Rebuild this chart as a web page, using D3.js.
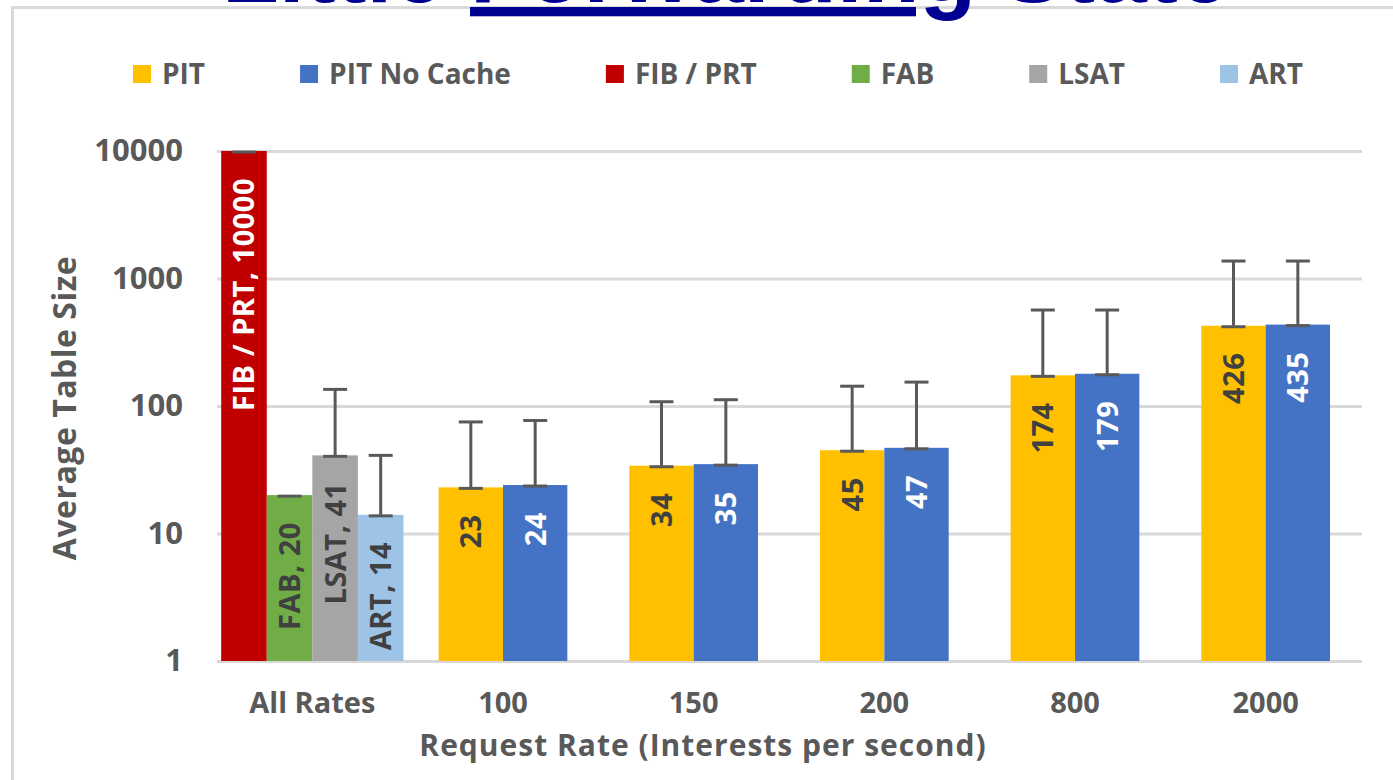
<!DOCTYPE html>
<html>
<head>
<meta charset="utf-8">
<script src="https://cdn.jsdelivr.net/npm/d3@7/dist/d3.min.js"></script>
<style>
    body { margin: 0; background: #ffffff; }
    svg text { font-family: "Open Sans", "Noto Sans", sans-serif; }
</style>
</head>
<body>
<div id="chart"></div>
<script>
// Categories on the x axis
const categories = ['All Rates', '100', '150', '200', '800', '2000'];
const rateCategories = ['100', '150', '200', '800', '2000'];

// PIT series (per request rate)
const pitValues = [23, 34, 45, 174, 426];
const pitErrors = [52, 74, 98, 392, 945];

// PIT No Cache series (per request rate)
const pitNoCacheValues = [24, 35, 47, 179, 435];
const pitNoCacheErrors = [53, 77, 107, 387, 936];

// Tables that do not depend on the rate
const allRatesSeries = ['FIB / PRT', 'FAB', 'LSAT', 'ART'];
const allRatesValues = [10000, 20, 41, 14];
const allRatesErrors = [0, 0, 94, 27];

// Legend and colours
const legendNames = ['PIT', 'PIT No Cache', 'FIB / PRT', 'FAB', 'LSAT', 'ART'];
const seriesColors = ['#ffc000', '#4472c4', '#c00000', '#70ad47', '#a5a5a5', '#9dc3e6'];
const labelColors = ['#404040', '#ffffff', '#ffffff', '#404040', '#404040', '#404040'];

const yTicks = [1, 10, 100, 1000, 10000];

const config = {
    width: 1393,
    height: 780,
    plot: { left: 217, right: 1361, top: 151, bottom: 661 },
    textColor: '#595959',
    gridColor: '#d9d9d9'
};

const color = d3.scaleOrdinal().domain(legendNames).range(seriesColors);
const labelColor = d3.scaleOrdinal().domain(legendNames).range(labelColors);

// Flatten into rows for drawing
const rows = [];
allRatesSeries.forEach((s, i) => rows.push({
    category: 'All Rates', series: s, value: allRatesValues[i], err: allRatesErrors[i],
    label: `${s}, ${allRatesValues[i]}`
}));
rateCategories.forEach((c, i) => {
    rows.push({ category: c, series: 'PIT', value: pitValues[i], err: pitErrors[i], label: `${pitValues[i]}` });
    rows.push({ category: c, series: 'PIT No Cache', value: pitNoCacheValues[i], err: pitNoCacheErrors[i], label: `${pitNoCacheValues[i]}` });
});

const svg = d3.select('#chart')
    .append('svg')
    .attr('width', config.width)
    .attr('height', config.height);

// Chart area frame
svg.append('rect')
    .attr('x', 12.5)
    .attr('y', 7.5)
    .attr('width', 1420)
    .attr('height', 800)
    .attr('fill', '#ffffff')
    .attr('stroke', config.gridColor)
    .attr('stroke-width', 3);

// Slide title, mostly cut off at the top
const title = svg.append('text')
    .attr('x', 222)
    .attr('y', 2)
    .style('font-family', '"Liberation Sans", Arial, sans-serif')
    .style('font-size', '93px')
    .style('font-weight', 'bold')
    .attr('fill', '#000091');
title.append('tspan').text('Little ');
title.append('tspan').style('text-decoration', 'underline').text('Forwarding');
title.append('tspan').text(' State');

// Scales
const x = d3.scaleBand()
    .domain(categories)
    .range([config.plot.left, config.plot.right])
    .padding(0);

const y = d3.scaleLog()
    .domain([1, 10000])
    .range([config.plot.bottom, config.plot.top]);

function subScale(category) {
    const bw = x.bandwidth();
    const cx = x(category) + bw / 2;
    if (category === 'All Rates') {
        const half = bw * 0.956 / 2;
        return d3.scaleBand().domain(allRatesSeries).range([cx - half, cx + half]);
    }
    const half = bw * 0.675 / 2;
    return d3.scaleBand().domain(['PIT', 'PIT No Cache']).range([cx - half, cx + half]);
}

// Grid
svg.append('g')
    .attr('class', 'grid')
    .attr('transform', `translate(${config.plot.left},0)`)
    .call(d3.axisLeft(y)
        .tickValues(yTicks)
        .tickSize(-(config.plot.right - config.plot.left + 1))
        .tickFormat(''))
    .call(g => g.select('.domain').remove())
    .call(g => g.selectAll('line')
        .attr('stroke', config.gridColor)
        .attr('stroke-width', 3));

// Y axis labels
svg.append('g')
    .attr('class', 'y-axis')
    .attr('transform', `translate(${config.plot.left},0)`)
    .call(d3.axisLeft(y)
        .tickValues(yTicks)
        .tickSize(0)
        .tickPadding(34)
        .tickFormat(d3.format('d')))
    .call(g => g.select('.domain').remove())
    .call(g => g.selectAll('text')
        .attr('fill', config.textColor)
        .style('font-size', '31px')
        .style('font-weight', 'bold'));

// X axis labels
svg.append('g')
    .attr('class', 'x-axis')
    .attr('transform', `translate(0,${config.plot.bottom})`)
    .call(d3.axisBottom(x).tickSize(0))
    .call(g => g.select('.domain').remove())
    .call(g => g.selectAll('text')
        .attr('y', 52)
        .attr('dy', 0)
        .attr('fill', config.textColor)
        .style('font-size', '29px')
        .style('font-weight', 'bold'));

// Axis titles
svg.append('text')
    .attr('x', 703)
    .attr('y', 756)
    .attr('text-anchor', 'middle')
    .attr('fill', config.textColor)
    .style('font-size', '30px')
    .style('font-weight', 'bold')
    .style('letter-spacing', '1px')
    .text('Request Rate (Interests per second)');

svg.append('text')
    .attr('transform', 'rotate(-90)')
    .attr('x', -408)
    .attr('y', 76)
    .attr('text-anchor', 'middle')
    .attr('fill', config.textColor)
    .style('font-size', '32px')
    .style('font-weight', 'bold')
    .style('letter-spacing', '0.5px')
    .text('Average Table Size');

// Bars
const bars = svg.append('g').attr('class', 'bars');
bars.selectAll('rect')
    .data(rows)
    .enter()
    .append('rect')
    .attr('x', d => subScale(d.category)(d.series))
    .attr('width', d => subScale(d.category).bandwidth())
    .attr('y', d => y(d.value))
    .attr('height', d => y(1) - y(d.value))
    .attr('fill', d => color(d.series));

// Error bars
const errColor = '#595959';
const capHalf = 12;
const errs = svg.append('g').attr('class', 'error-bars');
rows.forEach(d => {
    const sx = subScale(d.category);
    const cx = sx(d.series) + sx.bandwidth() / 2;
    const yTop = y(d.value + d.err);
    const yBase = y(d.value);
    if (d.err > 0) {
        errs.append('line')
            .attr('x1', cx).attr('x2', cx)
            .attr('y1', yBase).attr('y2', yTop)
            .attr('stroke', errColor).attr('stroke-width', 3);
        errs.append('line')
            .attr('x1', cx - capHalf).attr('x2', cx + capHalf)
            .attr('y1', yTop).attr('y2', yTop)
            .attr('stroke', errColor).attr('stroke-width', 3);
    }
    errs.append('line')
        .attr('x1', cx - capHalf).attr('x2', cx + capHalf)
        .attr('y1', yBase + 1).attr('y2', yBase + 1)
        .attr('stroke', errColor).attr('stroke-width', 3);
});

// Data labels, rotated, inside end of each bar
svg.append('g')
    .attr('class', 'labels')
    .selectAll('text')
    .data(rows)
    .enter()
    .append('text')
    .attr('transform', d => {
        const sx = subScale(d.category);
        const cx = sx(d.series) + sx.bandwidth() / 2;
        return `translate(${cx},${y(d.value) + 27}) rotate(-90)`;
    })
    .attr('text-anchor', 'end')
    .attr('dy', '0.36em')
    .attr('fill', d => labelColor(d.series))
    .style('font-size', '29px')
    .style('font-weight', 'bold')
    .style('letter-spacing', '0.5px')
    .text(d => d.label);

// Legend
const legend = svg.append('g').attr('class', 'legend');
let lx = 133;
legendNames.forEach(name => {
    const item = legend.append('g').attr('transform', `translate(${lx},0)`);
    item.append('rect')
        .attr('x', 0)
        .attr('y', 65)
        .attr('width', 18)
        .attr('height', 18)
        .attr('fill', color(name));
    const t = item.append('text')
        .attr('x', 29)
        .attr('y', 84)
        .attr('fill', config.textColor)
        .style('font-size', '28px')
        .style('font-weight', 'bold')
        .text(name);
    lx += 29 + t.node().getComputedTextLength() + 95;
});
</script>
</body>
</html>
